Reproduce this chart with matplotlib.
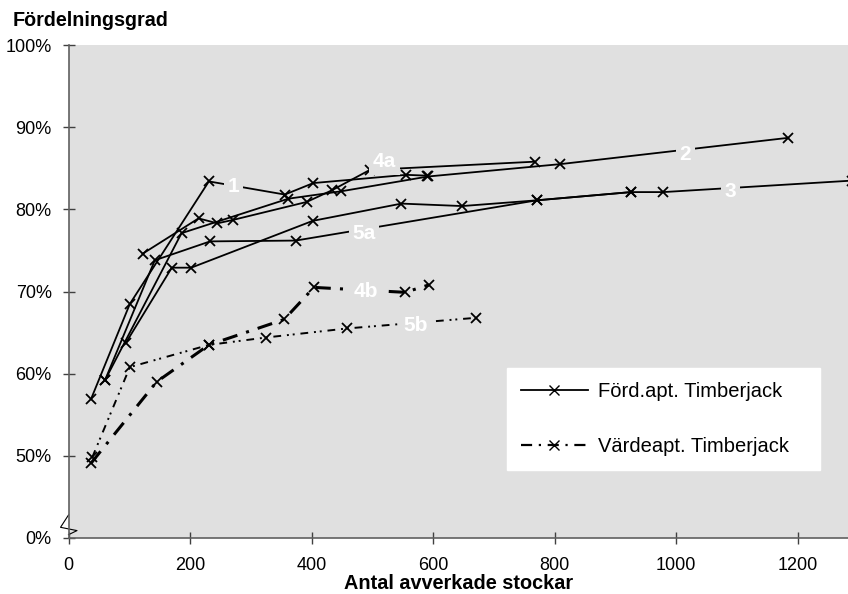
import matplotlib
matplotlib.use("Agg")
import matplotlib.pyplot as plt
from matplotlib.lines import Line2D

plt.rcParams["font.family"] = ["Liberation Sans", "DejaVu Sans"]

# y below 50% is compressed: the axis value 40 is drawn as "0%"
s1_x = [37, 101, 231, 356, 403, 556, 590]
s1_y = [56.9, 68.5, 83.4, 81.8, 83.2, 84.2, 84.1]
s2_x = [60, 186, 362, 449, 592, 809, 1184]
s2_y = [59.2, 77.1, 81.3, 82.2, 84.0, 85.5, 88.7]
s3_x = [94, 170, 202, 402, 548, 648, 771, 926, 979, 1290]
s3_y = [63.7, 72.9, 72.9, 78.6, 80.7, 80.4, 81.1, 82.1, 82.1, 83.5]
s4a_x = [122, 214, 245, 270, 392, 433, 496, 767]
s4a_y = [74.6, 78.9, 78.3, 78.7, 80.9, 82.3, 84.8, 85.8]
s5a_x = [60, 142, 233, 374, 771, 926]
s5a_y = [59.2, 73.8, 76.1, 76.2, 81.1, 82.1]
s4b_x = [37, 145, 231, 355, 404, 554, 593]
s4b_y = [49.1, 59.0, 63.5, 66.6, 70.5, 69.9, 70.8]
s5b_x = [39, 101, 231, 325, 458, 671]
s5b_y = [49.8, 60.8, 63.5, 64.4, 65.5, 66.8]

labels = ["1", "2", "3", "4a", "5a", "4b", "5b"]
label_x = [271, 1015, 1090, 520, 486, 490, 572]
label_y = [82.8, 86.7, 82.2, 85.8, 77.1, 70.0, 65.9]

BG = "#e0e0e0"

fig = plt.figure(figsize=(8.48, 5.94), dpi=100)
ax = fig.add_axes([0.0808, 0.0943, 0.9192, 0.8299])
ax.set_facecolor(BG)

mk = dict(marker="x", markersize=7.5, markeredgewidth=1.3, color="black")
for xs, ys in [(s1_x, s1_y), (s2_x, s2_y), (s3_x, s3_y), (s4a_x, s4a_y), (s5a_x, s5a_y)]:
	ax.plot(xs, ys, linestyle="-", linewidth=1.3, **mk)
ax.plot(s4b_x, s4b_y, linestyle=(0, (5, 3, 1, 3)), linewidth=2.2, **mk)
ax.plot(s5b_x, s5b_y, linestyle=(0, (4, 3, 1, 2, 1, 3)), linewidth=1.4, **mk)

for t, lx, ly in zip(labels, label_x, label_y):
	ax.text(lx, ly, t, color="white", fontsize=15, fontweight="bold", ha="center", va="center",
		bbox=dict(facecolor=BG, edgecolor="none", pad=2.5))

ax.set_xlim(0, 1283)
ax.set_ylim(40, 100)
ax.set_xticks(range(0, 1201, 200))
ax.set_yticks([40, 50, 60, 70, 80, 90, 100])
ax.set_yticklabels(["0%", "50%", "60%", "70%", "80%", "90%", "100%"])
ax.tick_params(direction="inout", length=8, width=1, labelsize=13, color="#404040")
ax.tick_params(axis="y", pad=8)
ax.tick_params(axis="x", pad=10)
for s in ["top", "right"]:
	ax.spines[s].set_visible(False)
for s in ["left", "bottom"]:
	ax.spines[s].set_color("#606060")
	ax.spines[s].set_linewidth(1.2)

# axis break mark
bx = [0, -8, 8.5, 0]
by = [42.8, 41.3, 40.9, 40.4]
ax.plot([b * 1283 / 780 for b in bx], by, color="black", linewidth=0.8, clip_on=False)

ax.set_xlabel("Antal avverkade stockar", fontsize=14.3, fontweight="bold", labelpad=0)
fig.text(12.5 / 848, 1 - 21 / 594, "Fördelningsgrad", fontsize=14.2, fontweight="bold", va="center")

h1 = Line2D([], [], linestyle="-", linewidth=1.3, marker="x", markersize=7, color="black")
h2 = Line2D([], [], linestyle=(0, (5, 3, 1, 3)), linewidth=1.6, marker="x", markersize=7, color="black")
leg = ax.legend([h1, h2], ["Förd.apt. Timberjack", "Värdeapt. Timberjack"], loc="lower left",
	bbox_to_anchor=(0.5626, 0.138, 0.4014, 0.213), mode="expand", fontsize=14.5, frameon=True,
	fancybox=False, framealpha=1, edgecolor="white", handlelength=3.3, handletextpad=0.5,
	labelspacing=1.8, borderpad=0.7, borderaxespad=0)

fig.savefig("out.png", dpi=100)
